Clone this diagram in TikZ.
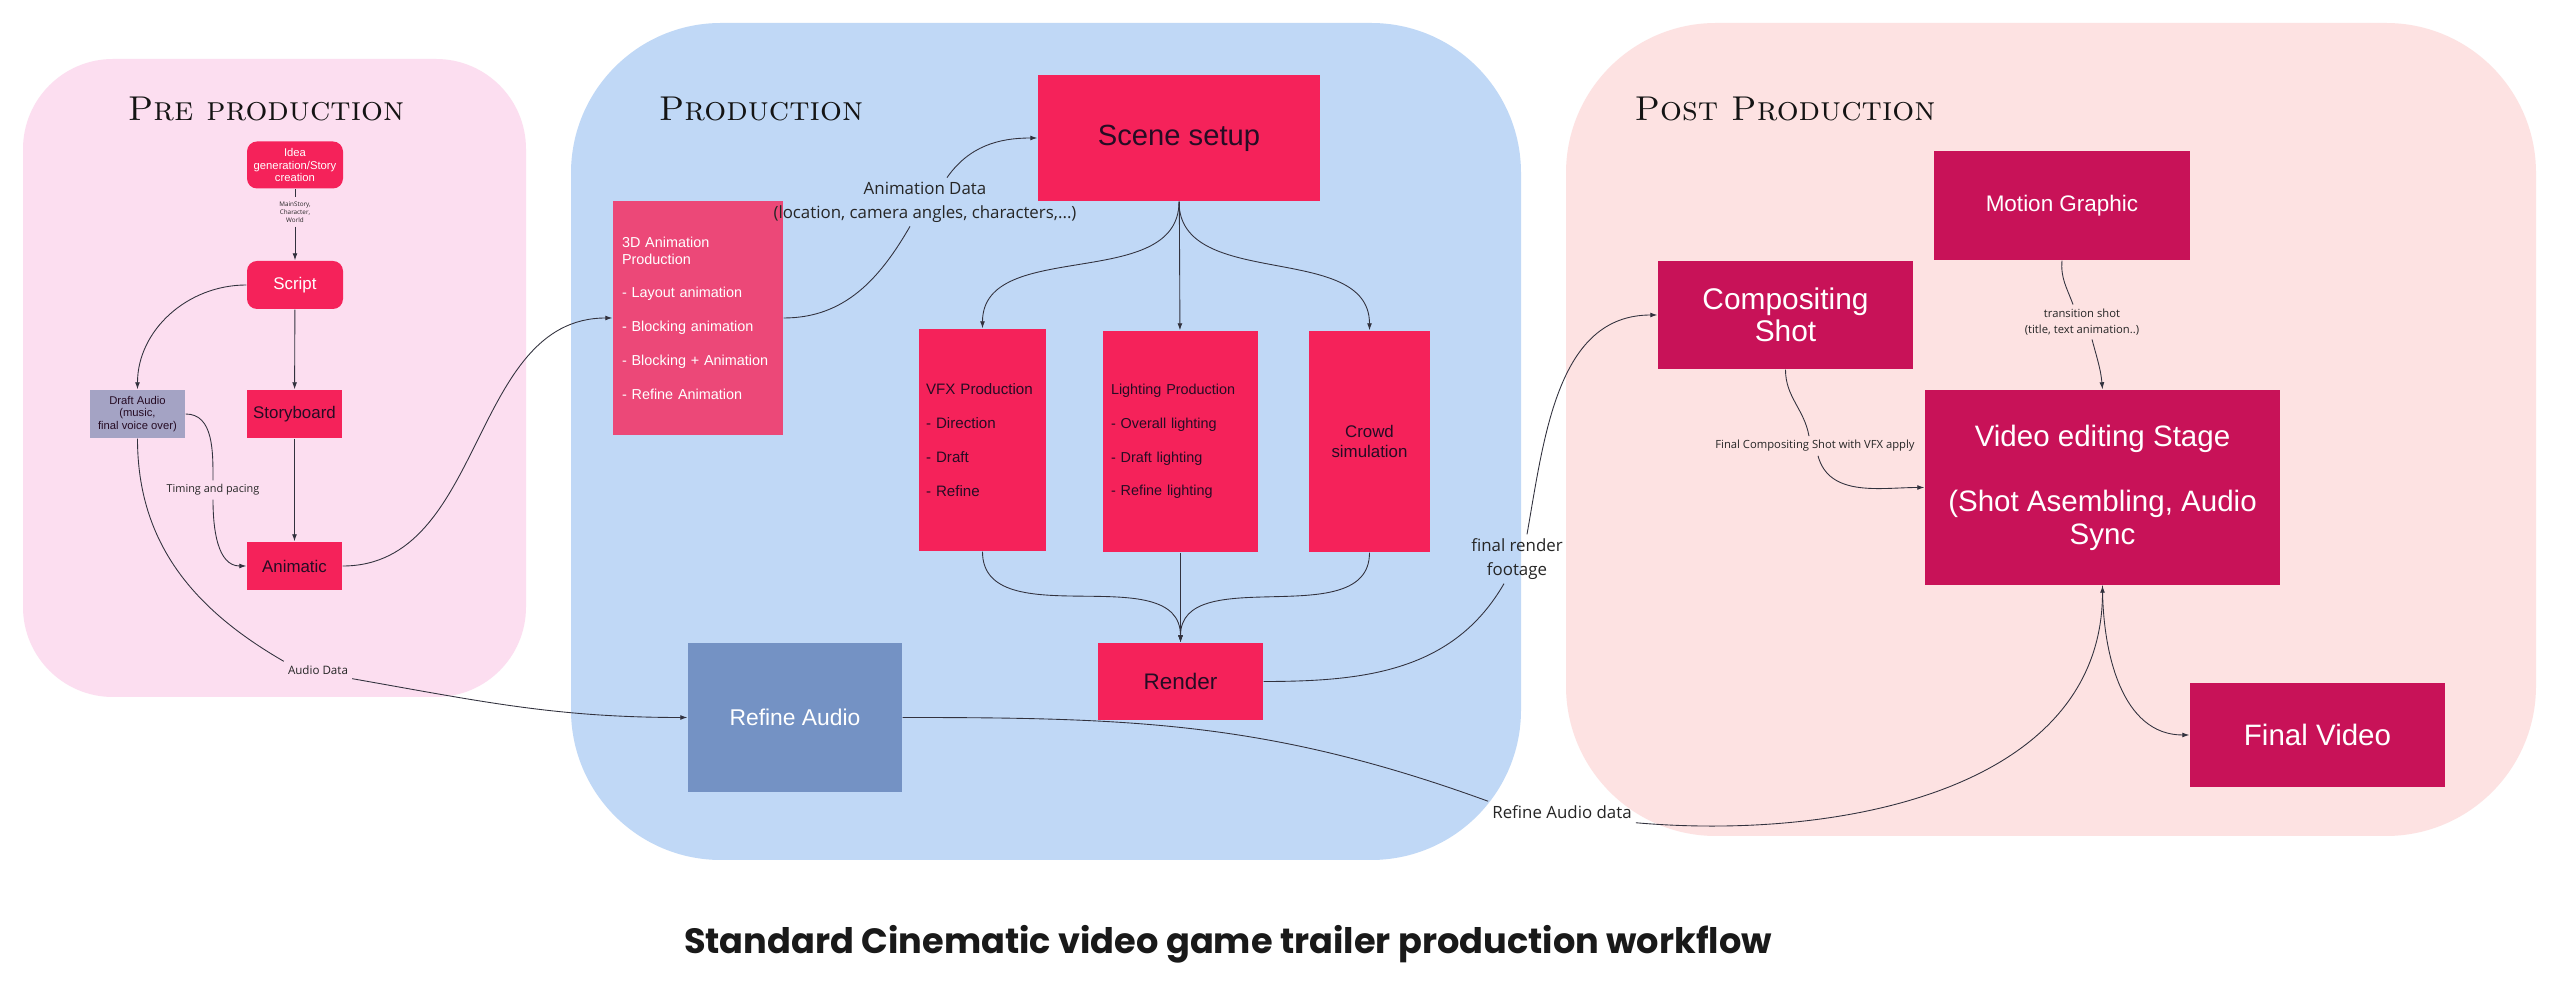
\documentclass[tikz,border=0pt]{standalone}
\usepackage{fontspec}
\setsansfont{Liberation Sans}
\newfontfamily\labelfont{Open Sans}
\newfontfamily\bannerfont{Poppins}
\usetikzlibrary{arrows.meta}

\definecolor{preBg}{RGB}{252,222,240}
\definecolor{prodBg}{RGB}{192,216,246}
\definecolor{postBg}{RGB}{253,226,226}
\definecolor{hotRed}{RGB}{245,34,90}
\definecolor{animPink}{RGB}{236,72,120}
\definecolor{postMag}{RGB}{200,18,88}
\definecolor{draftGray}{RGB}{164,163,196}
\definecolor{audioBlue}{RGB}{116,146,196}
\definecolor{inkDark}{RGB}{38,12,36}
\definecolor{lineGray}{RGB}{50,50,62}

\newcommand{\fsz}[2]{\fontsize{#1}{#2}\selectfont}

\begin{document}
\begin{tikzpicture}[x=0.1mm, y=-0.1mm,
  stage/.style={font=\rmfamily\scshape\fsz{9.8}{11}, text=black!92, anchor=base, inner sep=0pt},
  box/.style={inner sep=0pt, align=center},
  hot/.style={box, fill=hotRed, text=inkDark},
  post/.style={box, fill=postMag, text=white},
  lbl/.style={font=\labelfont\fsz{4.8}{6.8}, align=center, inner sep=1pt, text=black!85},
  flow/.style={draw=lineGray, line width=0.25pt, -{Latex[length=2pt,width=1.4pt]}}
]
  \fill[white] (0,0) rectangle (2560,987);
  \useasboundingbox (0,0) rectangle (2560,987);

  % stage panels
  \fill[preBg, rounded corners=9mm] (23,59) rectangle (526,697);
  \fill[prodBg, rounded corners=15mm] (571,23) rectangle (1521,860);
  \fill[postBg, rounded corners=15mm] (1566,23) rectangle (2536,836);

  \node[stage] (preT) at (266,121) {Pre production};
  \node[stage] (prodT) at (761,121) {Production};
  \node[stage] (postT) at (1785,121) {Post Production};

  % pre production
  \node[hot, text=white, rounded corners=1mm, minimum width=9.6mm, minimum height=4.7mm,
    font=\sffamily\fsz{3.2}{3.6}] (idea) at (295,165) {Idea\\generation/Story\\creation};
  \node[hot, text=white, rounded corners=1mm, minimum width=9.6mm, minimum height=4.8mm,
    font=\sffamily\fsz{4.8}{5.5}] (script) at (295,285) {Script};
  \node[box, fill=draftGray, text=inkDark, minimum width=9.5mm, minimum height=4.8mm,
    font=\sffamily\fsz{3.2}{3.5}] (draft) at (137.5,414) {Draft Audio\\(music,\\final voice over)};
  \node[hot, minimum width=9.5mm, minimum height=4.8mm,
    font=\sffamily\fsz{4.8}{5.5}] (story) at (294.5,414) {Storyboard};
  \node[hot, minimum width=9.5mm, minimum height=4.8mm,
    font=\sffamily\fsz{4.8}{5.5}] (anim) at (294.5,566) {Animatic};

  \node[lbl, font=\labelfont\fsz{1.8}{2.3}] (mws) at (295,212) {MainStory,\\Character,\\World};
  \node[lbl, font=\labelfont\fsz{3.1}{3.8}] (tnp) at (213,490) {Timing and pacing};
  \node[lbl, font=\labelfont\fsz{3.3}{4}] (adl) at (318,670) {Audio Data};

  % production
  \node[box, fill=animPink, text=white, minimum width=17mm, minimum height=23.4mm,
    text width=15.2mm, align=left, font=\sffamily\fsz{4.1}{4.8}] (a3d) at (698,318)
    {3D Animation\\Production\\[4.8pt]- Layout animation\\[4.8pt]- Blocking animation\\[4.8pt]- Blocking + Animation\\[4.8pt]- Refine Animation};
  \node[hot, minimum width=28.2mm, minimum height=12.6mm,
    font=\sffamily\fsz{8.3}{9.5}] (scene) at (1179,138) {Scene setup};
  \node[hot, minimum width=12.7mm, minimum height=22.2mm, text width=11.3mm, align=left,
    font=\sffamily\fsz{4.3}{9.6}] (vfx) at (982.5,440) {VFX Production\\- Direction\\- Draft\\- Refine};
  \node[hot, minimum width=15.5mm, minimum height=22.1mm, text width=13.9mm, align=left,
    font=\sffamily\fsz{4.1}{9.6}] (light) at (1180.5,441.5) {Lighting Production\\- Overall lighting\\- Draft lighting\\- Refine lighting};
  \node[hot, minimum width=12.1mm, minimum height=22.1mm,
    font=\sffamily\fsz{4.8}{5.5}] (crowd) at (1369.5,441.5) {Crowd\\simulation};
  \node[hot, minimum width=16.5mm, minimum height=7.7mm,
    font=\sffamily\fsz{6.4}{7.5}] (render) at (1180.5,681.5) {Render};
  \node[box, fill=audioBlue, text=white, minimum width=21.4mm, minimum height=14.9mm,
    font=\sffamily\fsz{6.5}{7.5}] (refa) at (795,717.5) {Refine Audio};

  \node[lbl] (adat) at (925,202) {Animation Data\\(location, camera angles, characters,...)};
  \node[lbl] (frf) at (1517,559) {final render\\footage};
  \node[lbl] (rad) at (1562,812) {Refine Audio data};

  % post production
  \node[post, minimum width=25.5mm, minimum height=10.8mm,
    font=\sffamily\fsz{8.5}{9.1}] (comp) at (1785.5,315) {Compositing\\Shot};
  \node[post, minimum width=25.6mm, minimum height=10.9mm,
    font=\sffamily\fsz{6.4}{7.5}] (motion) at (2062,205.5) {Motion Graphic};
  \node[post, minimum width=35.5mm, minimum height=19.5mm,
    font=\sffamily\fsz{8.4}{9.3}] (video) at (2102.5,487.5) {Video editing Stage\\[9.3pt](Shot Asembling, Audio\\Sync};
  \node[post, minimum width=25.5mm, minimum height=10.4mm,
    font=\sffamily\fsz{8.4}{9.5}] (final) at (2317.5,735) {Final Video};

  \node[lbl, font=\labelfont\fsz{3.2}{4}] (fcs) at (1815,446) {Final Compositing Shot with VFX apply};
  \node[lbl, font=\labelfont\fsz{3.2}{4.6}] (tsl) at (2082,322) {transition shot\\(title, text animation..)};

  % connectors
  \draw[flow] (idea.south) -- (mws.north) (mws.south) -- (script.north);
  \draw[flow] (script.west) to[out=180,in=90] (draft.north);
  \draw[flow] (script) -- (story);
  \draw[flow] (story) -- (anim);
  \draw[flow] (draft.east) to[out=0,in=90] (tnp.north) (tnp.south) to[out=-90,in=180] (anim.west);
  \draw[flow] (draft.south) to[out=-90,in=150] (adl.north west)
    (adl.south east) to[out=-10,in=180] (refa.west);
  \draw[flow] (anim.east) to[out=0,in=180] (a3d.west);
  \draw[flow] (a3d.east) to[out=0,in=-120] ([xshift=-1.5mm]adat.south)
    ([xshift=2.2mm]adat.north) to[out=55,in=180] (scene.west);
  \draw[flow] (scene.south) to[out=-90,in=90] (vfx.north);
  \draw[flow] (scene) -- (light);
  \draw[flow] (scene.south) to[out=-90,in=90] (crowd.north);
  \draw[flow] (vfx.south) to[out=-90,in=90] (render.north);
  \draw[flow] (light) -- (render);
  \draw[flow] (crowd.south) to[out=-90,in=90] (render.north);
  \draw[flow] (render.east) to[out=0,in=-120] ([xshift=-1.3mm]frf.south)
    ([xshift=1mm]frf.north) to[out=80,in=180] (comp.west);
  \draw[flow] (comp.south) to[out=-90,in=100] ([xshift=-0.6mm]fcs.north)
    ([xshift=0.3mm]fcs.south) to[out=-75,in=180] (video.west);
  \draw[flow] (motion.south) to[out=-95,in=110] ([xshift=-0.9mm]tsl.north)
    ([xshift=1mm]tsl.south) to[out=-75,in=95] (video.north);
  \draw[flow] (refa.east) to[out=0,in=160] (rad.north west)
    (rad.south east) to[out=-5,in=-90] (video.south);
  \draw[flow] (video.south) to[out=-90,in=180] (final.west);

  \node[font=\bannerfont\bfseries\fsz{10}{12}, text=black!90] (banner) at (1228,944)
    {Standard Cinematic video game trailer production workflow};
\end{tikzpicture}
\end{document}
